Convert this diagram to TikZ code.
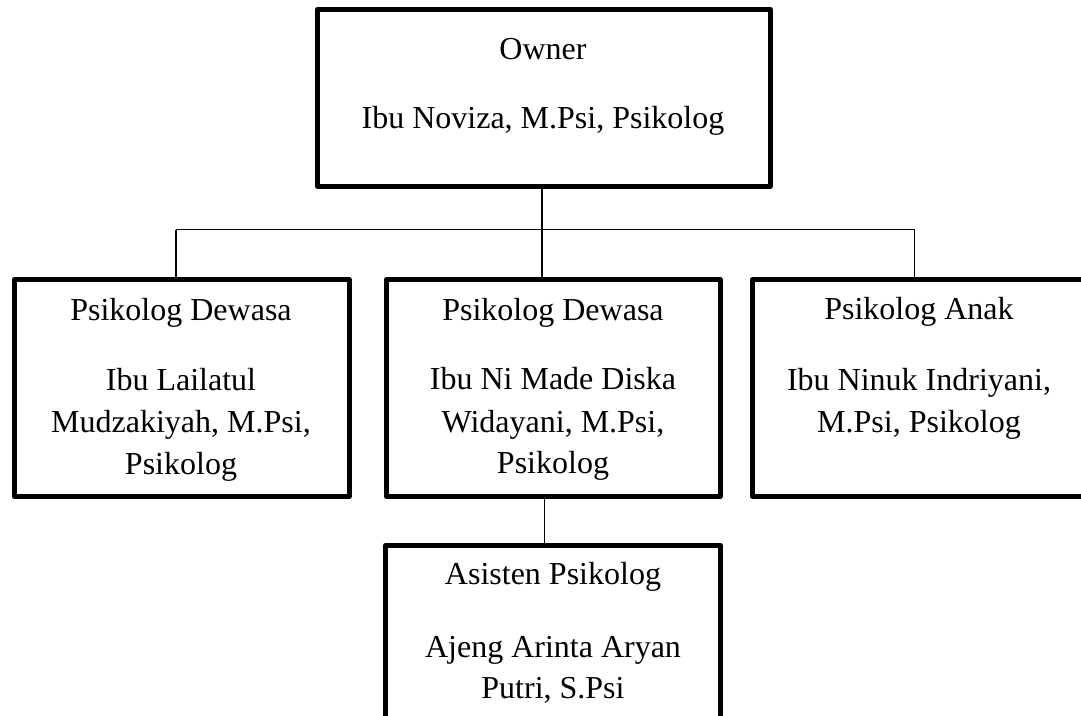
\documentclass[tikz,border=0pt]{standalone}
\usepackage{fontspec}
\setmainfont{Liberation Serif}
\newdimen\pxu \pxu=0.75pt
\tikzset{
  box/.style={draw=black, line width=3.75pt, line join=round, rectangle, inner sep=0pt, fill=white},
  conn/.style={draw=black, line width=1pt},
  txt/.style={inner sep=0pt, anchor=base, font=\fontsize{24}{28}\selectfont}
}
\begin{document}
\begin{tikzpicture}[x=0.75pt, y=-0.75pt]
\clip (0,0) rectangle (1081,715);
\fill[white] (0,0) rectangle (1081,715);
% boxes
\node[box, minimum width=452.5\pxu, minimum height=176.5\pxu] (own) at (543.75,97.75) {};
\node[box, minimum width=334.5\pxu, minimum height=217\pxu] (left) at (181.75,388) {};
\node[box, minimum width=333.5\pxu, minimum height=217\pxu] (mid) at (553.25,388) {};
\node[box, minimum width=334.5\pxu, minimum height=217\pxu] (right) at (919.75,388) {};
\node[box, minimum width=335\pxu, minimum height=217\pxu] (bot) at (553,654) {};
% connector coordinates
\coordinate (j) at (542,229.5);
\coordinate (jl) at (176,229.5);
\coordinate (jr) at (914.5,229.5);
\coordinate (jb) at (544.3,520);
% connectors
\draw[conn] (own.south -| j) -- (j) -- (mid.north -| j);
\draw[conn] (jl) -- (jr);
\draw[conn] (jl) -- (left.north -| jl);
\draw[conn] (jr) -- (right.north -| jr);
\draw[conn] (mid.south -| jb) -- (bot.north -| jb);
% texts
\node[txt] (t1) at (543,59) {Owner};
\node[txt] (t2) at (543,128) {Ibu Noviza, M.Psi, Psikolog};
\node[txt] (l1) at (181,320) {Psikolog Dewasa};
\node[txt] (l2) at (181,390) {Ibu Lailatul};
\node[txt] (l3) at (181,432) {Mudzakiyah, M.Psi,};
\node[txt] (l4) at (181,474) {Psikolog};
\node[txt] (m1) at (553,320) {Psikolog Dewasa};
\node[txt] (m2) at (553,389) {Ibu Ni Made Diska};
\node[txt] (m3) at (553,432) {Widayani, M.Psi,};
\node[txt] (m4) at (553,473) {Psikolog};
\node[txt] (r1) at (919,319) {Psikolog Anak};
\node[txt] (r2) at (919,390) {Ibu Ninuk Indriyani,};
\node[txt] (r3) at (919,432) {M.Psi, Psikolog};
\node[txt] (b1) at (553,584) {Asisten Psikolog};
\node[txt] (b2) at (553,657) {Ajeng Arinta Aryan};
\node[txt] (b3) at (553,698) {Putri, S.Psi};
\end{tikzpicture}
\end{document}
